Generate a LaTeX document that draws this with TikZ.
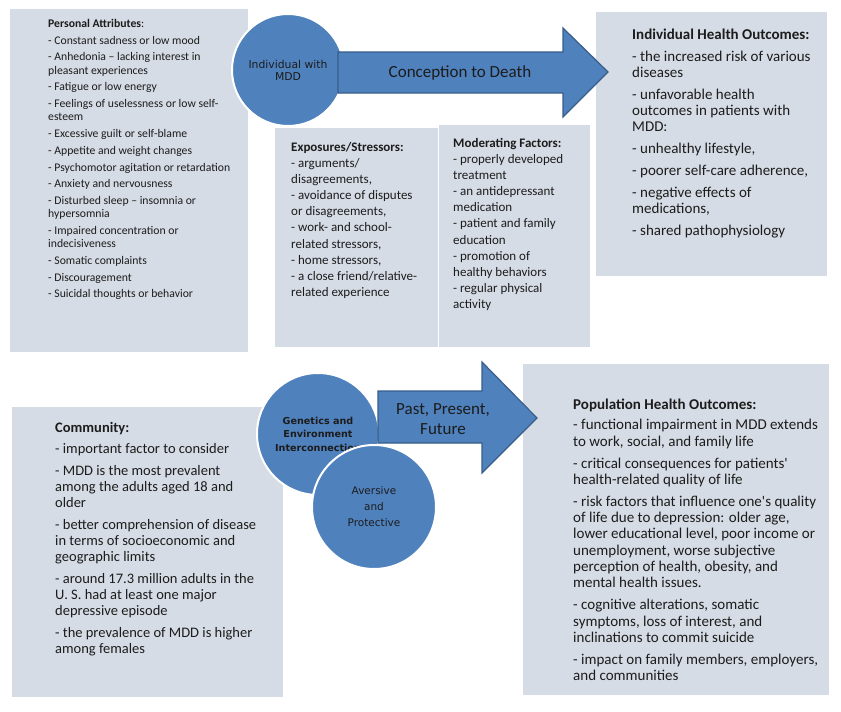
\documentclass[tikz,border=0pt]{standalone}
\usepackage{fontspec}
\setmainfont{Carlito}
\newfontfamily\discfont{DejaVu Sans}
\definecolor{figBox}{RGB}{214,220,229}
\definecolor{figB}{RGB}{79,129,189}
\definecolor{figD}{RGB}{56,93,138}
\definecolor{figT}{RGB}{28,28,28}

\begin{document}
\begin{tikzpicture}[x=1pt,y=-1pt,
  panel/.style={fill=figBox,inner sep=0pt,anchor=north west},
  txt/.style={anchor=north west,align=left,inner sep=0pt,text=figT},
  disc/.style={circle,fill=figB,draw=white,line width=2pt,inner sep=0pt,align=center,text=figT},
  blockarrow/.style={fill=figB,draw=figD,line width=1.2pt,line join=miter}]
\useasboundingbox (0,0) rectangle (841,712);
% panels
\node[panel,minimum width=238pt,minimum height=343pt] (attrBox) at (10,9) {};
\node[panel,minimum width=163pt,minimum height=219pt] (expoBox) at (275,128) {};
\node[panel,minimum width=151pt,minimum height=222pt] (moderBox) at (439,125) {};
\node[panel,minimum width=231pt,minimum height=264pt] (indivBox) at (596,12) {};
\node[panel,minimum width=271pt,minimum height=290pt] (commBox) at (12,407) {};
\node[panel,minimum width=306pt,minimum height=331pt] (popBox) at (523,364) {};
% panel texts
\node[txt,font=\fontsize{11.7}{13.3}\selectfont] (attr) at (48,19.1) {\textbf{Personal Attributes}:\\[3.4pt]
  - Constant sadness or low mood\\[3.4pt]
  - Anhedonia -- lacking interest in\\ pleasant experiences\\[3.4pt]
  - Fatigue or low energy\\[3.4pt]
  - Feelings of uselessness or low self-\\ esteem\\[3.4pt]
  - Excessive guilt or self-blame\\[3.4pt]
  - Appetite and weight changes\\[3.4pt]
  - Psychomotor agitation or retardation\\[3.4pt]
  - Anxiety and nervousness\\[3.4pt]
  - Disturbed sleep -- insomnia or\\ hypersomnia\\[3.4pt]
  - Impaired concentration or\\ indecisiveness\\[3.4pt]
  - Somatic complaints\\[3.4pt]
  - Discouragement\\[3.4pt]
  - Suicidal thoughts or behavior};
\node[txt,font=\fontsize{13}{16.1}\selectfont] (expo) at (291,142.1) {\textbf{Exposures/Stressors:}\\
  - arguments/\\ disagreements,\\
  - avoidance of disputes\\ or disagreements,\\
  - work- and school-\\ related stressors,\\
  - home stressors,\\
  - a close friend/relative-\\ related experience};
\node[txt,font=\fontsize{13}{16.1}\selectfont] (moder) at (453,138.1) {\textbf{Moderating Factors:}\\
  - properly developed\\ treatment\\
  - an antidepressant\\ medication\\
  - patient and family\\ education\\
  - promotion of\\ healthy behaviors\\
  - regular physical\\ activity};
\node[txt,font=\fontsize{15}{16}\selectfont] (indiv) at (632,29) {\textbf{Individual Health Outcomes:}\\[5.5pt]
  - the increased risk of various\\ diseases\\[6pt]
  - unfavorable health\\ outcomes in patients with\\ MDD:\\[6pt]
  - unhealthy lifestyle,\\[6pt]
  - poorer self-care adherence,\\[6pt]
  - negative effects of\\ medications,\\[6pt]
  - shared pathophysiology};
\node[txt,font=\fontsize{14.5}{16}\selectfont] (comm) at (55,422.3) {\textbf{Community:}\\[5pt]
  - important factor to consider\\[6pt]
  - MDD is the most prevalent\\ among the adults aged 18 and\\ older\\[6pt]
  - better comprehension of disease\\ in terms of socioeconomic and\\ geographic limits\\[6pt]
  - around 17.3 million adults in the\\ U. S. had at least one major\\ depressive episode\\[6pt]
  - the prevalence of MDD is higher\\ among females};
\node[txt,font=\fontsize{15}{16.3}\selectfont] (pop) at (573,399) {\textbf{Population Health Outcomes:}\\[3.7pt]
  - functional impairment in MDD extends\\ to work, social, and family life\\[5.7pt]
  - critical consequences for patients\textquotesingle\\ health-related quality of life\\[5.7pt]
  - risk factors that influence one\textquotesingle s quality\\ of life due to depression: older age,\\ lower educational level, poor income or\\ unemployment, worse subjective\\ perception of health, obesity, and\\ mental health issues.\\[5.7pt]
  - cognitive alterations, somatic\\ symptoms, loss of interest, and\\ inclinations to commit suicide\\[5.7pt]
  - impact on family members, employers,\\ and communities};
% individual: conception to death
\node[disc,minimum size=112pt,font=\discfont\fontsize{10.8}{12}\selectfont] (person) at (288,70) {Individual with\\MDD};
\filldraw[blockarrow] (338,52) -- (563,52) -- (563,28) -- (608,72) -- (563,117) -- (563,93) -- (338,93) -- cycle;
\node[font=\fontsize{17}{20}\selectfont,text=figT] (lifespan) at (460,73) {Conception to Death};
% population: past, present, future
\node[disc,minimum size=122pt,font=\discfont\bfseries\fontsize{9.6}{13.5}\selectfont] (genes) at (318,434) {Genetics and\\Environment\\Interconnection};
\filldraw[blockarrow] (378,391) -- (482,391) -- (482,362) -- (537,418) -- (482,473) -- (482,443) -- (378,443) -- cycle;
\node[font=\fontsize{17}{20}\selectfont,text=figT,align=center] (times) at (443,419) {Past, Present,\\Future};
\node[disc,minimum size=124pt,font=\discfont\fontsize{10.5}{16}\selectfont] (aversive) at (374,507) {Aversive\\and\\Protective};
\end{tikzpicture}
\end{document}
